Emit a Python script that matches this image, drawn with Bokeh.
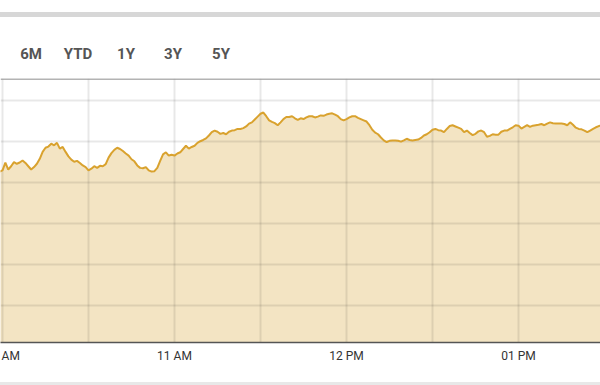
from bokeh.plotting import figure
from bokeh.models import DatetimeTickFormatter, FixedTicker, Span, Range1d, Div
from bokeh.layouts import column
from bokeh.embed import file_html
from bokeh.resources import INLINE
import pandas as pd

# ---------------- data ----------------
day = "2024-03-15"
start_time = "09:59"          # first sample, one-minute spacing
prices = [
    1832.6, 1832.9, 1834.8, 1833.1, 1833.9, 1834.9, 1834.5, 1834.8, 1835.3, 1834.7,
    1833.9, 1833.1, 1833.7, 1834.5, 1835.7, 1837.4, 1838.4, 1838.7, 1839.4, 1839.0,
    1839.6, 1838.2, 1838.6, 1837.4, 1836.3, 1835.5, 1835.0, 1835.2, 1834.7, 1834.1,
    1833.7, 1832.9, 1833.3, 1833.9, 1833.5, 1834.0, 1833.9, 1834.4, 1836.0, 1837.1,
    1837.9, 1838.4, 1838.1, 1837.6, 1837.0, 1836.5, 1835.6, 1835.1, 1834.1, 1833.5,
    1833.4, 1833.7, 1832.9, 1832.6, 1832.7, 1833.5, 1835.2, 1836.8, 1837.3, 1836.5,
    1836.7, 1836.5, 1837.0, 1837.3, 1838.1, 1838.9, 1838.2, 1838.6, 1838.9, 1839.6,
    1840.0, 1840.3, 1840.7, 1841.4, 1842.2, 1842.6, 1842.3, 1841.8, 1842.0, 1841.7,
    1842.3, 1842.6, 1842.7, 1843.0, 1843.0, 1843.2, 1843.6, 1844.3, 1844.6, 1845.3,
    1846.0, 1846.7, 1847.0, 1846.1, 1845.1, 1844.7, 1844.4, 1843.9, 1844.6, 1845.4,
    1845.9, 1845.9, 1846.1, 1845.6, 1845.2, 1845.6, 1845.4, 1845.8, 1846.1, 1846.1,
    1845.8, 1846.0, 1846.3, 1846.2, 1846.5, 1846.7, 1846.8, 1846.5, 1846.1, 1845.4,
    1845.1, 1845.4, 1845.8, 1846.1, 1846.1, 1845.7, 1845.4, 1845.1, 1844.8, 1843.9,
    1842.8, 1842.1, 1841.7, 1840.9, 1840.2, 1839.8, 1840.1, 1840.2, 1840.2, 1840.1,
    1839.9, 1840.2, 1840.6, 1840.3, 1840.2, 1840.3, 1840.4, 1840.8, 1841.4, 1841.7,
    1842.2, 1842.8, 1843.0, 1842.7, 1842.6, 1842.2, 1843.0, 1843.7, 1843.9, 1843.6,
    1843.3, 1843.0, 1842.2, 1842.6, 1842.0, 1841.5, 1841.8, 1842.4, 1842.6, 1842.2,
    1841.1, 1841.3, 1841.7, 1841.6, 1841.6, 1842.3, 1842.6, 1842.6, 1843.0, 1843.4,
    1843.9, 1843.8, 1843.1, 1843.5, 1843.9, 1843.5, 1843.8, 1843.9, 1844.0, 1844.2,
    1843.9, 1844.3, 1844.6, 1844.4, 1844.3, 1844.3, 1844.3, 1844.2, 1843.9, 1844.6,
    1844.0, 1843.3, 1843.0, 1842.9, 1842.6, 1842.2, 1842.6, 1843.0, 1843.4, 1843.7,
    1843.9,
]
hour_ticks = ["10:00", "11:00", "12:00", "13:00"]
grid_ticks = ["10:00", "10:30", "11:00", "11:30", "12:00", "12:30", "13:00", "13:30"]
price_grid = [1800, 1810, 1820, 1830, 1840, 1850]
range_buttons = ["6M", "YTD", "1Y", "3Y", "5Y"]
view_start = "09:59:18"
view_end = "13:28:36"
price_low, price_high = 1790.9, 1855.3

# ---------------- build ----------------
times = pd.date_range(f"{day} {start_time}", periods=len(prices), freq="1min")
def ms(t):
    return pd.Timestamp(f"{day} {t}").value // 10**6

W = 600
HEAD = 78
FRAME_H = 264
BOTTOM = 40
LEFT_PAD = 24   # canvas extends past the window's left edge (clips first label)
FULL_W = W + LEFT_PAD

# header with the range buttons
btn_x = [31, 78, 126, 173, 221]
spans = "".join(
    f'<div style="position:absolute;left:{LEFT_PAD+bx-25}px;top:46px;width:50px;text-align:center;'
    f'font-family:\'Liberation Sans Narrow\',\'Roboto\',sans-serif;font-weight:bold;'
    f'font-size:15px;line-height:16px;color:#555555;">{txt}</div>'
    for txt, bx in zip(range_buttons, btn_x))
head_html = (f'<div style="position:relative;width:{FULL_W}px;height:{HEAD}px;">'
             f'<div style="position:absolute;left:0;top:12px;width:{FULL_W}px;height:5px;background:#d7d7d7;"></div>'
             f'{spans}</div>')
head = Div(text=head_html, width=FULL_W, height=HEAD, styles={"margin": "0", "padding": "0"})

p = figure(width=FULL_W, height=FRAME_H + BOTTOM, output_backend="svg",
           toolbar_location=None, x_axis_type="datetime", y_axis_location=None,
           x_range=Range1d(pd.Timestamp(f"{day} {view_start}"), pd.Timestamp(f"{day} {view_end}")),
           y_range=Range1d(price_low, price_high),
           min_border_left=LEFT_PAD, min_border_right=0,
           min_border_top=0, min_border_bottom=BOTTOM)
p.outline_line_color = None
p.background_fill_color = "white"
p.border_fill_color = "white"

area = p.varea(x=times, y1=price_low - 50, y2=prices, fill_color="#f3e4c3", fill_alpha=1.0)
area.level = "image"
p.line(x=times, y=prices, line_color="#d9a22e", line_width=2)

# grids
p.xgrid.ticker = FixedTicker(ticks=[ms(t) for t in grid_ticks])
p.ygrid.ticker = FixedTicker(ticks=price_grid)
for g in (p.xgrid, p.ygrid):
    g.grid_line_color = "black"
    g.grid_line_alpha = 0.09
    g.grid_line_width = 2
    g.level = "underlay"

# top border of the plotting area
p.add_layout(Span(location=price_high - 0.12, dimension="width",
                  line_color="#9a9a9a", line_width=1.5))

# bottom axis
ax = p.xaxis[0]
ax.ticker = FixedTicker(ticks=[ms(t) for t in hour_ticks])
ax.formatter = DatetimeTickFormatter(hours="%I %p", minutes="%I %p", hourmin="%I %p",
                                     days="%I %p", context=None)
ax.axis_line_color = "#555555"
ax.axis_line_width = 1.6
ax.major_tick_line_color = None
ax.minor_tick_line_color = None
ax.major_label_text_font = "Roboto"
ax.major_label_text_font_size = "12px"
ax.major_label_text_color = "#333333"
ax.major_label_standoff = 0

foot = Div(text="", width=FULL_W, height=3, styles={"background-color": "#e8e8e8", "margin": "0"})

layout = column(head, p, foot, spacing=0, width=FULL_W,
                styles={"margin-left": f"-{LEFT_PAD}px"})
open("out.html", "w").write(file_html(layout, INLINE))
